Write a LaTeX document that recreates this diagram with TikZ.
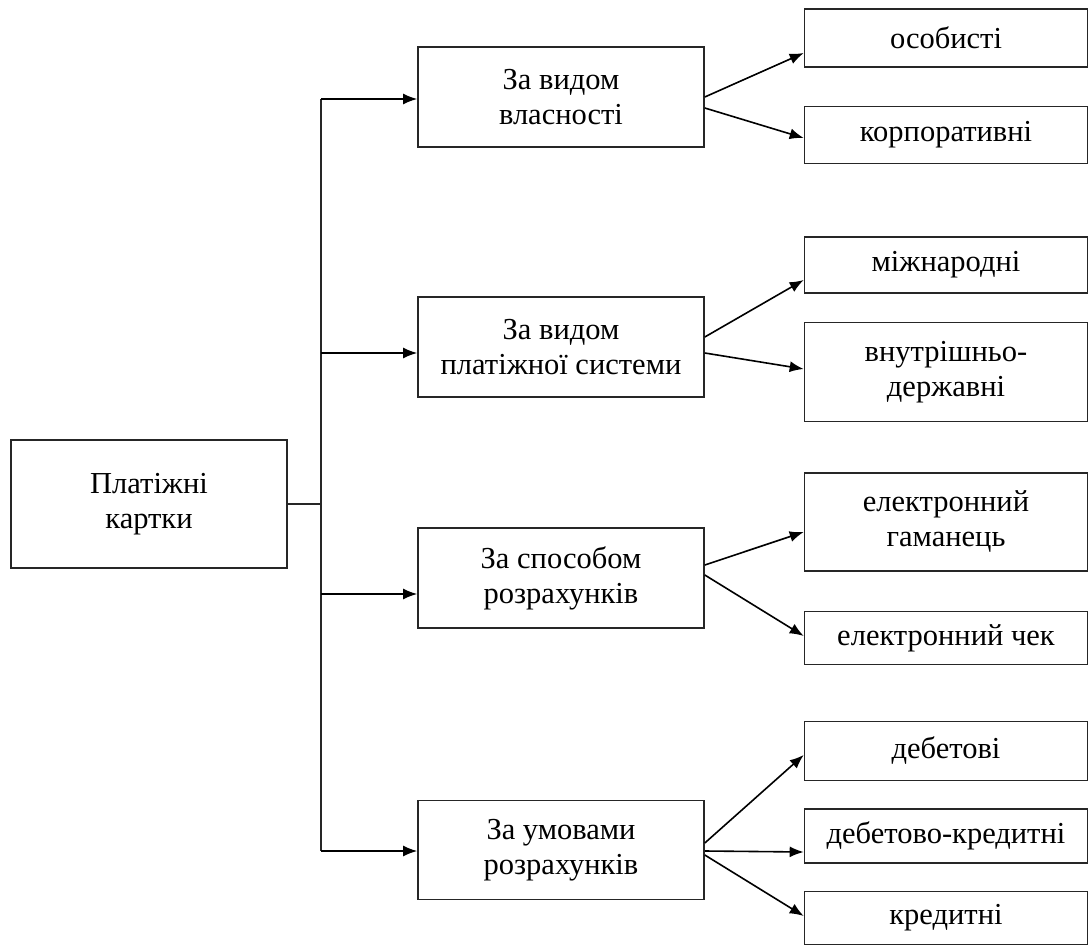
\documentclass[tikz,border=0pt]{standalone}
\usepackage{fontspec}
\setmainfont{Liberation Serif}
\usepackage{tikz}
\usetikzlibrary{arrows.meta}
\usetikzlibrary{calc}
\newcommand\cardfont{\fontsize{30.5}{35}\selectfont}

\begin{document}
\begin{tikzpicture}[x=1pt, y=-1pt,
        box/.style={draw, line width=1.6pt, draw=black!85, align=center, inner sep=0pt,
                    font=\cardfont},
        arr/.style={line width=1.6pt, -{Latex[length=14pt,width=11pt]}}]
        \useasboundingbox (0,0) rectangle (1090,947);
        % root and middle level
        \node[box, minimum width=276pt, minimum height=128pt] (root) at (149,504) {Платіжні\\картки};
        \node[box, minimum width=286pt, minimum height=100pt] (m1) at (561,97) {За видом\\власності};
        \node[box, minimum width=286pt, minimum height=100pt] (m2) at (561,347) {За видом\\платіжної системи};
        \node[box, minimum width=286pt, minimum height=100pt] (m3) at (561,578) {За способом\\розрахунків};
        \node[box, minimum width=286pt, minimum height=99pt] (m4) at (561,850) {За умовами\\розрахунків};
        % right level
        \node[box, minimum width=283pt, minimum height=58pt] (r1) at (946,38) {особисті};
        \node[box, minimum width=283pt, minimum height=57pt] (r2) at (946,135) {корпоративні};
        \node[box, minimum width=283pt, minimum height=56pt] (r3) at (946,265) {міжнародні};
        \node[box, minimum width=283pt, minimum height=99pt] (r4) at (946,372) {внутрішньо-\\державні};
        \node[box, minimum width=283pt, minimum height=98pt] (r5) at (946,522) {електронний\\гаманець};
        \node[box, minimum width=283pt, minimum height=53pt] (r6) at (946,638) {електронний чек};
        \node[box, minimum width=283pt, minimum height=59pt] (r7) at (946,751) {дебетові};
        \node[box, minimum width=283pt, minimum height=54pt] (r8) at (946,836) {дебетово-кредитні};
        \node[box, minimum width=283pt, minimum height=53pt] (r9) at (946,918) {кредитні};
        % trunk
        \coordinate (t1) at (321,99);
        \coordinate (t2) at (321,353);
        \coordinate (t3) at (321,594);
        \coordinate (t4) at (321,851);
        \draw[line width=1.6pt, black!85] (t1) -- (t4);
        \draw[line width=1.6pt, black!85] (root.east) -- (root.east -| t1);
        \draw[arr] (t1) -- (t1 -| m1.west);
        \draw[arr] (t2) -- (t2 -| m2.west);
        \draw[arr] (t3) -- (t3 -| m3.west);
        \draw[arr] (t4) -- (t4 -| m4.west);
        % branches
        \draw[arr] ($(m1.east)+(0,0)$) -- ($(r1.west)+(0,15)$);
        \draw[arr] ($(m1.east)+(0,11)$) -- ($(r2.west)+(0,3)$);
        \draw[arr] ($(m2.east)+(0,-10)$) -- ($(r3.west)+(0,15)$);
        \draw[arr] ($(m2.east)+(0,6)$) -- ($(r4.west)+(0,-3)$);
        \draw[arr] ($(m3.east)+(0,-13)$) -- ($(r5.west)+(0,10)$);
        \draw[arr] ($(m3.east)+(0,-3)$) -- ($(r6.west)+(0,-2)$);
        \draw[arr] ($(m4.east)+(0,-7)$) -- ($(r7.west)+(0,4)$);
        \draw[arr] ($(m4.east)+(0,1)$) -- ($(r8.west)+(0,16)$);
        \draw[arr] ($(m4.east)+(0,5)$) -- ($(r9.west)+(0,-2)$);
    \end{tikzpicture}
\end{document}
